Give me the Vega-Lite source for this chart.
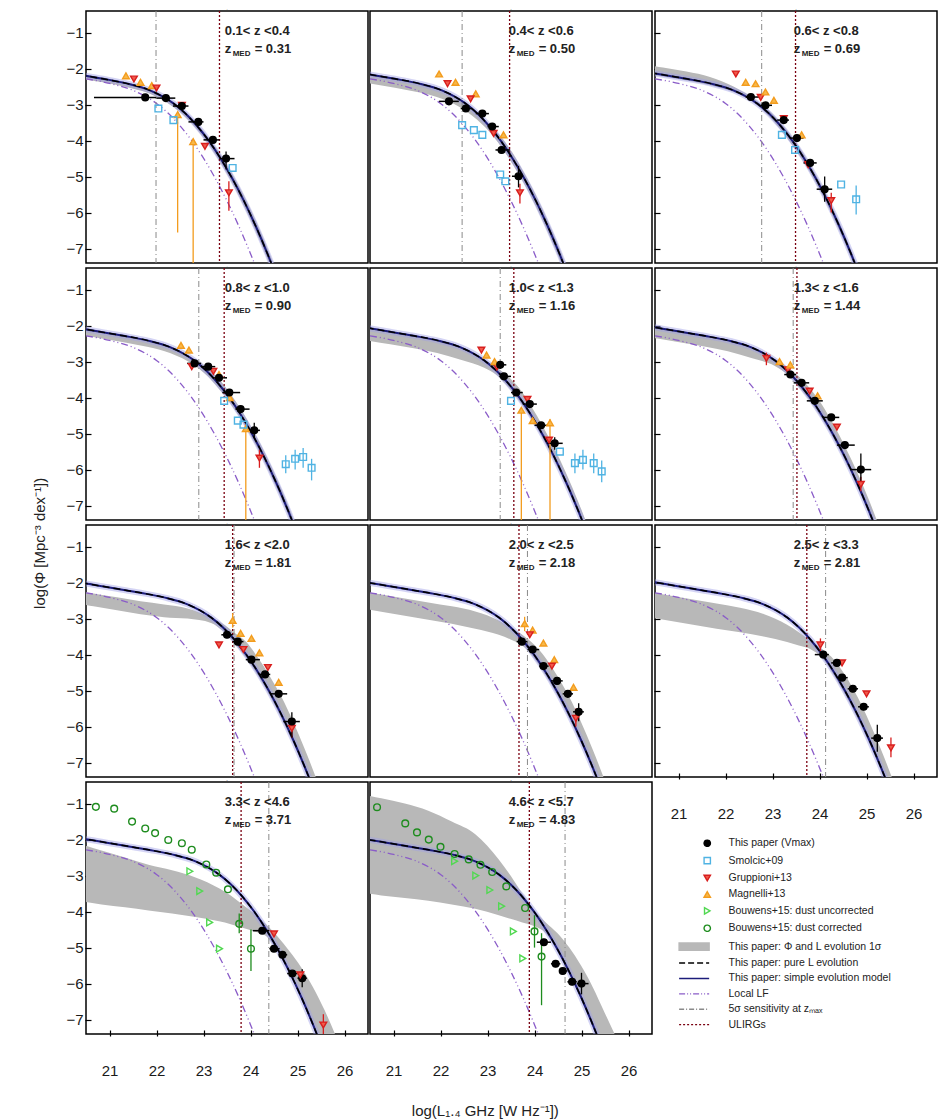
{
"$schema":"https://vega.github.io/schema/vega-lite/v6.json",
"background":"white",
"padding":{"left":32,"top":8,"right":0,"bottom":0},
"title":{"text":"log(L₁.₄ GHz [W Hz⁻¹])","orient":"bottom","anchor":"middle","dx":0,"offset":26,"font":"Liberation Sans","fontSize":15,"fontWeight":"normal","color":"#222"},
"datasets":{"all":[
{"p":1,"k":"c","x":20.36,"y":-2.171,"lo":-2.27,"hi":-2.14},{"p":1,"k":"c","x":20.86,"y":-2.284,"lo":-2.38,"hi":-2.25},{"p":1,"k":"c","x":21.36,"y":-2.41,"lo":-2.51,"hi":-2.38},{"p":1,"k":"c","x":21.86,"y":-2.604,"lo":-2.7,"hi":-2.57},{"p":1,"k":"c","x":22.36,"y":-2.967,"lo":-3.07,"hi":-2.93},{"p":1,"k":"c","x":22.61,"y":-3.242,"lo":-3.34,"hi":-3.19},{"p":1,"k":"c","x":22.86,"y":-3.587,"lo":-3.69,"hi":-3.52},{"p":1,"k":"c","x":23.11,"y":-4.002,"lo":-4.11,"hi":-3.92},{"p":1,"k":"c","x":23.36,"y":-4.489,"lo":-4.61,"hi":-4.38},{"p":1,"k":"c","x":23.61,"y":-5.047,"lo":-5.18,"hi":-4.92},{"p":1,"k":"c","x":23.86,"y":-5.675,"lo":-5.82,"hi":-5.53},{"p":1,"k":"c","x":24.11,"y":-6.373,"lo":-6.52,"hi":-6.22},{"p":1,"k":"c","x":24.36,"y":-7.14,"lo":-7.29,"hi":-6.99},{"p":1,"k":"c","x":24.61,"y":-7.976,"lo":-8.13,"hi":-7.83},
{"p":2,"k":"c","x":20.03,"y":-2.061,"lo":-2.31,"hi":-2.04},{"p":2,"k":"c","x":20.53,"y":-2.171,"lo":-2.42,"hi":-2.15},{"p":2,"k":"c","x":21.03,"y":-2.284,"lo":-2.53,"hi":-2.26},{"p":2,"k":"c","x":21.53,"y":-2.41,"lo":-2.66,"hi":-2.39},{"p":2,"k":"c","x":22.03,"y":-2.604,"lo":-2.84,"hi":-2.58},{"p":2,"k":"c","x":22.53,"y":-2.967,"lo":-3.17,"hi":-2.94},{"p":2,"k":"c","x":22.78,"y":-3.242,"lo":-3.42,"hi":-3.21},{"p":2,"k":"c","x":23.03,"y":-3.587,"lo":-3.74,"hi":-3.53},{"p":2,"k":"c","x":23.28,"y":-4.002,"lo":-4.15,"hi":-3.88},{"p":2,"k":"c","x":23.53,"y":-4.489,"lo":-4.64,"hi":-4.34},{"p":2,"k":"c","x":23.78,"y":-5.047,"lo":-5.2,"hi":-4.9},{"p":2,"k":"c","x":24.03,"y":-5.675,"lo":-5.83,"hi":-5.52},{"p":2,"k":"c","x":24.28,"y":-6.373,"lo":-6.53,"hi":-6.22},{"p":2,"k":"c","x":24.53,"y":-7.14,"lo":-7.29,"hi":-6.99},{"p":2,"k":"c","x":24.78,"y":-7.976,"lo":-8.13,"hi":-7.83},
{"p":3,"k":"c","x":20.17,"y":-2.061,"lo":-2.11,"hi":-1.86},{"p":3,"k":"c","x":20.67,"y":-2.171,"lo":-2.22,"hi":-1.97},{"p":3,"k":"c","x":21.17,"y":-2.284,"lo":-2.33,"hi":-2.08},{"p":3,"k":"c","x":21.67,"y":-2.41,"lo":-2.46,"hi":-2.23},{"p":3,"k":"c","x":22.17,"y":-2.604,"lo":-2.65,"hi":-2.5},{"p":3,"k":"c","x":22.67,"y":-2.967,"lo":-3.02,"hi":-2.9},{"p":3,"k":"c","x":22.92,"y":-3.242,"lo":-3.32,"hi":-3.16},{"p":3,"k":"c","x":23.17,"y":-3.587,"lo":-3.7,"hi":-3.5},{"p":3,"k":"c","x":23.42,"y":-4.002,"lo":-4.12,"hi":-3.9},{"p":3,"k":"c","x":23.67,"y":-4.489,"lo":-4.61,"hi":-4.38},{"p":3,"k":"c","x":23.92,"y":-5.047,"lo":-5.17,"hi":-4.94},{"p":3,"k":"c","x":24.17,"y":-5.675,"lo":-5.8,"hi":-5.56},{"p":3,"k":"c","x":24.42,"y":-6.373,"lo":-6.5,"hi":-6.26},{"p":3,"k":"c","x":24.67,"y":-7.14,"lo":-7.26,"hi":-7.03},{"p":3,"k":"c","x":24.92,"y":-7.976,"lo":-8.1,"hi":-7.87},
{"p":4,"k":"c","x":20.3,"y":-2.061,"lo":-2.24,"hi":-2.04},{"p":4,"k":"c","x":20.8,"y":-2.171,"lo":-2.35,"hi":-2.15},{"p":4,"k":"c","x":21.3,"y":-2.284,"lo":-2.46,"hi":-2.26},{"p":4,"k":"c","x":21.8,"y":-2.41,"lo":-2.59,"hi":-2.39},{"p":4,"k":"c","x":22.3,"y":-2.604,"lo":-2.77,"hi":-2.58},{"p":4,"k":"c","x":22.8,"y":-2.967,"lo":-3.1,"hi":-2.92},{"p":4,"k":"c","x":23.05,"y":-3.242,"lo":-3.36,"hi":-3.14},{"p":4,"k":"c","x":23.3,"y":-3.587,"lo":-3.71,"hi":-3.44},{"p":4,"k":"c","x":23.55,"y":-4.002,"lo":-4.12,"hi":-3.85},{"p":4,"k":"c","x":23.8,"y":-4.489,"lo":-4.61,"hi":-4.34},{"p":4,"k":"c","x":24.05,"y":-5.047,"lo":-5.17,"hi":-4.9},{"p":4,"k":"c","x":24.3,"y":-5.675,"lo":-5.8,"hi":-5.52},{"p":4,"k":"c","x":24.55,"y":-6.373,"lo":-6.5,"hi":-6.22},{"p":4,"k":"c","x":24.8,"y":-7.14,"lo":-7.26,"hi":-6.99},{"p":4,"k":"c","x":25.05,"y":-7.976,"lo":-8.1,"hi":-7.83},
{"p":5,"k":"c","x":20.43,"y":-2.061,"lo":-2.41,"hi":-2.04},{"p":5,"k":"c","x":20.93,"y":-2.171,"lo":-2.52,"hi":-2.15},{"p":5,"k":"c","x":21.43,"y":-2.284,"lo":-2.63,"hi":-2.26},{"p":5,"k":"c","x":21.93,"y":-2.41,"lo":-2.76,"hi":-2.39},{"p":5,"k":"c","x":22.43,"y":-2.604,"lo":-2.95,"hi":-2.58},{"p":5,"k":"c","x":22.93,"y":-2.967,"lo":-3.17,"hi":-2.94},{"p":5,"k":"c","x":23.18,"y":-3.242,"lo":-3.36,"hi":-3.15},{"p":5,"k":"c","x":23.43,"y":-3.587,"lo":-3.69,"hi":-3.4},{"p":5,"k":"c","x":23.68,"y":-4.002,"lo":-4.1,"hi":-3.75},{"p":5,"k":"c","x":23.93,"y":-4.489,"lo":-4.59,"hi":-4.24},{"p":5,"k":"c","x":24.18,"y":-5.047,"lo":-5.15,"hi":-4.8},{"p":5,"k":"c","x":24.43,"y":-5.675,"lo":-5.78,"hi":-5.43},{"p":5,"k":"c","x":24.68,"y":-6.373,"lo":-6.47,"hi":-6.12},{"p":5,"k":"c","x":24.93,"y":-7.14,"lo":-7.24,"hi":-6.89},{"p":5,"k":"c","x":25.18,"y":-7.976,"lo":-8.08,"hi":-7.73},
{"p":6,"k":"c","x":20.05,"y":-1.951,"lo":-2.25,"hi":-1.93},{"p":6,"k":"c","x":20.55,"y":-2.061,"lo":-2.36,"hi":-2.04},{"p":6,"k":"c","x":21.05,"y":-2.171,"lo":-2.47,"hi":-2.15},{"p":6,"k":"c","x":21.55,"y":-2.284,"lo":-2.58,"hi":-2.26},{"p":6,"k":"c","x":22.05,"y":-2.41,"lo":-2.71,"hi":-2.39},{"p":6,"k":"c","x":22.55,"y":-2.604,"lo":-2.9,"hi":-2.58},{"p":6,"k":"c","x":23.05,"y":-2.967,"lo":-3.12,"hi":-2.93},{"p":6,"k":"c","x":23.3,"y":-3.242,"lo":-3.34,"hi":-3.14},{"p":6,"k":"c","x":23.55,"y":-3.587,"lo":-3.69,"hi":-3.4},{"p":6,"k":"c","x":23.8,"y":-4.002,"lo":-4.1,"hi":-3.75},{"p":6,"k":"c","x":24.05,"y":-4.489,"lo":-4.59,"hi":-4.19},{"p":6,"k":"c","x":24.3,"y":-5.047,"lo":-5.15,"hi":-4.75},{"p":6,"k":"c","x":24.55,"y":-5.675,"lo":-5.78,"hi":-5.38},{"p":6,"k":"c","x":24.8,"y":-6.373,"lo":-6.47,"hi":-6.07},{"p":6,"k":"c","x":25.05,"y":-7.14,"lo":-7.24,"hi":-6.84},{"p":6,"k":"c","x":25.3,"y":-7.976,"lo":-8.08,"hi":-7.68},
{"p":7,"k":"c","x":20.16,"y":-1.951,"lo":-2.55,"hi":-2.19},{"p":7,"k":"c","x":20.66,"y":-2.061,"lo":-2.66,"hi":-2.3},{"p":7,"k":"c","x":21.16,"y":-2.171,"lo":-2.77,"hi":-2.41},{"p":7,"k":"c","x":21.66,"y":-2.284,"lo":-2.88,"hi":-2.52},{"p":7,"k":"c","x":22.16,"y":-2.41,"lo":-2.96,"hi":-2.61},{"p":7,"k":"c","x":22.66,"y":-2.604,"lo":-3.0,"hi":-2.72},{"p":7,"k":"c","x":23.16,"y":-2.967,"lo":-3.12,"hi":-2.97},{"p":7,"k":"c","x":23.41,"y":-3.242,"lo":-3.34,"hi":-3.14},{"p":7,"k":"c","x":23.66,"y":-3.587,"lo":-3.69,"hi":-3.39},{"p":7,"k":"c","x":23.91,"y":-4.002,"lo":-4.1,"hi":-3.65},{"p":7,"k":"c","x":24.16,"y":-4.489,"lo":-4.59,"hi":-4.09},{"p":7,"k":"c","x":24.41,"y":-5.047,"lo":-5.15,"hi":-4.6},{"p":7,"k":"c","x":24.66,"y":-5.675,"lo":-5.78,"hi":-5.18},{"p":7,"k":"c","x":24.91,"y":-6.373,"lo":-6.47,"hi":-5.87},{"p":7,"k":"c","x":25.16,"y":-7.14,"lo":-7.24,"hi":-6.64},{"p":7,"k":"c","x":25.41,"y":-7.976,"lo":-8.08,"hi":-7.48},{"p":7,"k":"c","x":25.66,"y":-8.88,"lo":-8.98,"hi":-8.38},
{"p":8,"k":"c","x":20.24,"y":-1.951,"lo":-2.7,"hi":-2.22},{"p":8,"k":"c","x":20.74,"y":-2.061,"lo":-2.81,"hi":-2.33},{"p":8,"k":"c","x":21.24,"y":-2.171,"lo":-2.92,"hi":-2.44},{"p":8,"k":"c","x":21.74,"y":-2.284,"lo":-3.03,"hi":-2.55},{"p":8,"k":"c","x":22.24,"y":-2.41,"lo":-3.14,"hi":-2.66},{"p":8,"k":"c","x":22.74,"y":-2.604,"lo":-3.28,"hi":-2.8},{"p":8,"k":"c","x":23.24,"y":-2.967,"lo":-3.45,"hi":-3.05},{"p":8,"k":"c","x":23.49,"y":-3.242,"lo":-3.58,"hi":-3.25},{"p":8,"k":"c","x":23.74,"y":-3.587,"lo":-3.75,"hi":-3.45},{"p":8,"k":"c","x":23.99,"y":-4.002,"lo":-4.1,"hi":-3.72},{"p":8,"k":"c","x":24.24,"y":-4.489,"lo":-4.59,"hi":-4.1},{"p":8,"k":"c","x":24.49,"y":-5.047,"lo":-5.15,"hi":-4.6},{"p":8,"k":"c","x":24.74,"y":-5.675,"lo":-5.78,"hi":-5.18},{"p":8,"k":"c","x":24.99,"y":-6.373,"lo":-6.47,"hi":-5.87},{"p":8,"k":"c","x":25.24,"y":-7.14,"lo":-7.24,"hi":-6.64},{"p":8,"k":"c","x":25.49,"y":-7.976,"lo":-8.08,"hi":-7.48},{"p":8,"k":"c","x":25.74,"y":-8.88,"lo":-8.98,"hi":-8.38},
{"p":9,"k":"c","x":20.31,"y":-1.951,"lo":-2.95,"hi":-2.25},{"p":9,"k":"c","x":20.81,"y":-2.061,"lo":-3.06,"hi":-2.36},{"p":9,"k":"c","x":21.31,"y":-2.171,"lo":-3.17,"hi":-2.47},{"p":9,"k":"c","x":21.81,"y":-2.284,"lo":-3.28,"hi":-2.58},{"p":9,"k":"c","x":22.31,"y":-2.41,"lo":-3.38,"hi":-2.7},{"p":9,"k":"c","x":22.81,"y":-2.604,"lo":-3.5,"hi":-2.87},{"p":9,"k":"c","x":23.31,"y":-2.967,"lo":-3.65,"hi":-3.17},{"p":9,"k":"c","x":23.56,"y":-3.242,"lo":-3.75,"hi":-3.38},{"p":9,"k":"c","x":23.81,"y":-3.587,"lo":-3.85,"hi":-3.62},{"p":9,"k":"c","x":24.06,"y":-4.002,"lo":-4.1,"hi":-3.85},{"p":9,"k":"c","x":24.31,"y":-4.489,"lo":-4.59,"hi":-4.14},{"p":9,"k":"c","x":24.56,"y":-5.047,"lo":-5.15,"hi":-4.6},{"p":9,"k":"c","x":24.81,"y":-5.675,"lo":-5.78,"hi":-5.18},{"p":9,"k":"c","x":25.06,"y":-6.373,"lo":-6.47,"hi":-5.87},{"p":9,"k":"c","x":25.31,"y":-7.14,"lo":-7.24,"hi":-6.64},{"p":9,"k":"c","x":25.56,"y":-7.976,"lo":-8.08,"hi":-7.48},{"p":9,"k":"c","x":25.81,"y":-8.88,"lo":-8.98,"hi":-8.38},
{"p":10,"k":"c","x":20.33,"y":-1.951,"lo":-3.7,"hi":-2.1},{"p":10,"k":"c","x":20.83,"y":-2.061,"lo":-3.8,"hi":-2.3},{"p":10,"k":"c","x":21.33,"y":-2.171,"lo":-3.88,"hi":-2.5},{"p":10,"k":"c","x":21.83,"y":-2.284,"lo":-3.97,"hi":-2.7},{"p":10,"k":"c","x":22.33,"y":-2.41,"lo":-4.05,"hi":-2.85},{"p":10,"k":"c","x":22.83,"y":-2.604,"lo":-4.15,"hi":-3.05},{"p":10,"k":"c","x":23.33,"y":-2.967,"lo":-4.27,"hi":-3.35},{"p":10,"k":"c","x":23.58,"y":-3.242,"lo":-4.35,"hi":-3.55},{"p":10,"k":"c","x":23.83,"y":-3.587,"lo":-4.45,"hi":-3.8},{"p":10,"k":"c","x":24.08,"y":-4.002,"lo":-4.55,"hi":-4.05},{"p":10,"k":"c","x":24.33,"y":-4.489,"lo":-4.68,"hi":-4.35},{"p":10,"k":"c","x":24.58,"y":-5.047,"lo":-5.12,"hi":-4.7},{"p":10,"k":"c","x":24.83,"y":-5.675,"lo":-5.72,"hi":-5.1},{"p":10,"k":"c","x":25.08,"y":-6.373,"lo":-6.42,"hi":-5.55},{"p":10,"k":"c","x":25.33,"y":-7.14,"lo":-7.19,"hi":-6.1},{"p":10,"k":"c","x":25.58,"y":-7.976,"lo":-8.03,"hi":-6.75},{"p":10,"k":"c","x":25.83,"y":-8.88,"lo":-8.93,"hi":-7.5},
{"p":11,"k":"c","x":20.24,"y":-1.951,"lo":-3.45,"hi":-0.72},{"p":11,"k":"c","x":20.74,"y":-2.061,"lo":-3.55,"hi":-0.85},{"p":11,"k":"c","x":21.24,"y":-2.171,"lo":-3.62,"hi":-1.0},{"p":11,"k":"c","x":21.74,"y":-2.284,"lo":-3.7,"hi":-1.2},{"p":11,"k":"c","x":22.24,"y":-2.41,"lo":-3.8,"hi":-1.5},{"p":11,"k":"c","x":22.74,"y":-2.604,"lo":-3.92,"hi":-1.85},{"p":11,"k":"c","x":23.24,"y":-2.967,"lo":-4.1,"hi":-2.55},{"p":11,"k":"c","x":23.49,"y":-3.242,"lo":-4.2,"hi":-3.0},{"p":11,"k":"c","x":23.74,"y":-3.587,"lo":-4.3,"hi":-3.5},{"p":11,"k":"c","x":23.99,"y":-4.002,"lo":-4.4,"hi":-3.95},{"p":11,"k":"c","x":24.24,"y":-4.489,"lo":-4.6,"hi":-4.3},{"p":11,"k":"c","x":24.49,"y":-5.047,"lo":-5.12,"hi":-4.6},{"p":11,"k":"c","x":24.74,"y":-5.675,"lo":-5.75,"hi":-5.0},{"p":11,"k":"c","x":24.99,"y":-6.373,"lo":-6.45,"hi":-5.5},{"p":11,"k":"c","x":25.24,"y":-7.14,"lo":-7.22,"hi":-6.1},{"p":11,"k":"c","x":25.49,"y":-7.976,"lo":-8.05,"hi":-6.8},{"p":11,"k":"c","x":25.74,"y":-8.88,"lo":-8.95,"hi":-7.5},
{"p":1,"k":"l","x":20.5,"y":-2.284},{"p":1,"k":"l","x":21,"y":-2.41},{"p":1,"k":"l","x":21.5,"y":-2.604},{"p":1,"k":"l","x":22,"y":-2.967},{"p":1,"k":"l","x":22.25,"y":-3.242},{"p":1,"k":"l","x":22.5,"y":-3.587},{"p":1,"k":"l","x":22.75,"y":-4.002},{"p":1,"k":"l","x":23,"y":-4.489},{"p":1,"k":"l","x":23.25,"y":-5.047},{"p":1,"k":"l","x":23.5,"y":-5.675},{"p":1,"k":"l","x":23.75,"y":-6.373},{"p":1,"k":"l","x":24,"y":-7.14},{"p":1,"k":"l","x":24.25,"y":-7.976},
{"p":2,"k":"l","x":20.5,"y":-2.284},{"p":2,"k":"l","x":21,"y":-2.41},{"p":2,"k":"l","x":21.5,"y":-2.604},{"p":2,"k":"l","x":22,"y":-2.967},{"p":2,"k":"l","x":22.25,"y":-3.242},{"p":2,"k":"l","x":22.5,"y":-3.587},{"p":2,"k":"l","x":22.75,"y":-4.002},{"p":2,"k":"l","x":23,"y":-4.489},{"p":2,"k":"l","x":23.25,"y":-5.047},{"p":2,"k":"l","x":23.5,"y":-5.675},{"p":2,"k":"l","x":23.75,"y":-6.373},{"p":2,"k":"l","x":24,"y":-7.14},{"p":2,"k":"l","x":24.25,"y":-7.976},
{"p":3,"k":"l","x":20.5,"y":-2.284},{"p":3,"k":"l","x":21,"y":-2.41},{"p":3,"k":"l","x":21.5,"y":-2.604},{"p":3,"k":"l","x":22,"y":-2.967},{"p":3,"k":"l","x":22.25,"y":-3.242},{"p":3,"k":"l","x":22.5,"y":-3.587},{"p":3,"k":"l","x":22.75,"y":-4.002},{"p":3,"k":"l","x":23,"y":-4.489},{"p":3,"k":"l","x":23.25,"y":-5.047},{"p":3,"k":"l","x":23.5,"y":-5.675},{"p":3,"k":"l","x":23.75,"y":-6.373},{"p":3,"k":"l","x":24,"y":-7.14},{"p":3,"k":"l","x":24.25,"y":-7.976},
{"p":4,"k":"l","x":20.5,"y":-2.284},{"p":4,"k":"l","x":21,"y":-2.41},{"p":4,"k":"l","x":21.5,"y":-2.604},{"p":4,"k":"l","x":22,"y":-2.967},{"p":4,"k":"l","x":22.25,"y":-3.242},{"p":4,"k":"l","x":22.5,"y":-3.587},{"p":4,"k":"l","x":22.75,"y":-4.002},{"p":4,"k":"l","x":23,"y":-4.489},{"p":4,"k":"l","x":23.25,"y":-5.047},{"p":4,"k":"l","x":23.5,"y":-5.675},{"p":4,"k":"l","x":23.75,"y":-6.373},{"p":4,"k":"l","x":24,"y":-7.14},{"p":4,"k":"l","x":24.25,"y":-7.976},
{"p":5,"k":"l","x":20.5,"y":-2.284},{"p":5,"k":"l","x":21,"y":-2.41},{"p":5,"k":"l","x":21.5,"y":-2.604},{"p":5,"k":"l","x":22,"y":-2.967},{"p":5,"k":"l","x":22.25,"y":-3.242},{"p":5,"k":"l","x":22.5,"y":-3.587},{"p":5,"k":"l","x":22.75,"y":-4.002},{"p":5,"k":"l","x":23,"y":-4.489},{"p":5,"k":"l","x":23.25,"y":-5.047},{"p":5,"k":"l","x":23.5,"y":-5.675},{"p":5,"k":"l","x":23.75,"y":-6.373},{"p":5,"k":"l","x":24,"y":-7.14},{"p":5,"k":"l","x":24.25,"y":-7.976},
{"p":6,"k":"l","x":20.5,"y":-2.284},{"p":6,"k":"l","x":21,"y":-2.41},{"p":6,"k":"l","x":21.5,"y":-2.604},{"p":6,"k":"l","x":22,"y":-2.967},{"p":6,"k":"l","x":22.25,"y":-3.242},{"p":6,"k":"l","x":22.5,"y":-3.587},{"p":6,"k":"l","x":22.75,"y":-4.002},{"p":6,"k":"l","x":23,"y":-4.489},{"p":6,"k":"l","x":23.25,"y":-5.047},{"p":6,"k":"l","x":23.5,"y":-5.675},{"p":6,"k":"l","x":23.75,"y":-6.373},{"p":6,"k":"l","x":24,"y":-7.14},{"p":6,"k":"l","x":24.25,"y":-7.976},
{"p":7,"k":"l","x":20.5,"y":-2.284},{"p":7,"k":"l","x":21,"y":-2.41},{"p":7,"k":"l","x":21.5,"y":-2.604},{"p":7,"k":"l","x":22,"y":-2.967},{"p":7,"k":"l","x":22.25,"y":-3.242},{"p":7,"k":"l","x":22.5,"y":-3.587},{"p":7,"k":"l","x":22.75,"y":-4.002},{"p":7,"k":"l","x":23,"y":-4.489},{"p":7,"k":"l","x":23.25,"y":-5.047},{"p":7,"k":"l","x":23.5,"y":-5.675},{"p":7,"k":"l","x":23.75,"y":-6.373},{"p":7,"k":"l","x":24,"y":-7.14},{"p":7,"k":"l","x":24.25,"y":-7.976},
{"p":8,"k":"l","x":20.5,"y":-2.284},{"p":8,"k":"l","x":21,"y":-2.41},{"p":8,"k":"l","x":21.5,"y":-2.604},{"p":8,"k":"l","x":22,"y":-2.967},{"p":8,"k":"l","x":22.25,"y":-3.242},{"p":8,"k":"l","x":22.5,"y":-3.587},{"p":8,"k":"l","x":22.75,"y":-4.002},{"p":8,"k":"l","x":23,"y":-4.489},{"p":8,"k":"l","x":23.25,"y":-5.047},{"p":8,"k":"l","x":23.5,"y":-5.675},{"p":8,"k":"l","x":23.75,"y":-6.373},{"p":8,"k":"l","x":24,"y":-7.14},{"p":8,"k":"l","x":24.25,"y":-7.976},
{"p":9,"k":"l","x":20.5,"y":-2.284},{"p":9,"k":"l","x":21,"y":-2.41},{"p":9,"k":"l","x":21.5,"y":-2.604},{"p":9,"k":"l","x":22,"y":-2.967},{"p":9,"k":"l","x":22.25,"y":-3.242},{"p":9,"k":"l","x":22.5,"y":-3.587},{"p":9,"k":"l","x":22.75,"y":-4.002},{"p":9,"k":"l","x":23,"y":-4.489},{"p":9,"k":"l","x":23.25,"y":-5.047},{"p":9,"k":"l","x":23.5,"y":-5.675},{"p":9,"k":"l","x":23.75,"y":-6.373},{"p":9,"k":"l","x":24,"y":-7.14},{"p":9,"k":"l","x":24.25,"y":-7.976},
{"p":10,"k":"l","x":20.5,"y":-2.284},{"p":10,"k":"l","x":21,"y":-2.41},{"p":10,"k":"l","x":21.5,"y":-2.604},{"p":10,"k":"l","x":22,"y":-2.967},{"p":10,"k":"l","x":22.25,"y":-3.242},{"p":10,"k":"l","x":22.5,"y":-3.587},{"p":10,"k":"l","x":22.75,"y":-4.002},{"p":10,"k":"l","x":23,"y":-4.489},{"p":10,"k":"l","x":23.25,"y":-5.047},{"p":10,"k":"l","x":23.5,"y":-5.675},{"p":10,"k":"l","x":23.75,"y":-6.373},{"p":10,"k":"l","x":24,"y":-7.14},{"p":10,"k":"l","x":24.25,"y":-7.976},
{"p":11,"k":"l","x":20.5,"y":-2.284},{"p":11,"k":"l","x":21,"y":-2.41},{"p":11,"k":"l","x":21.5,"y":-2.604},{"p":11,"k":"l","x":22,"y":-2.967},{"p":11,"k":"l","x":22.25,"y":-3.242},{"p":11,"k":"l","x":22.5,"y":-3.587},{"p":11,"k":"l","x":22.75,"y":-4.002},{"p":11,"k":"l","x":23,"y":-4.489},{"p":11,"k":"l","x":23.25,"y":-5.047},{"p":11,"k":"l","x":23.5,"y":-5.675},{"p":11,"k":"l","x":23.75,"y":-6.373},{"p":11,"k":"l","x":24,"y":-7.14},{"p":11,"k":"l","x":24.25,"y":-7.976},
{"p":1,"k":"v","t":"s","x":21.99},{"p":1,"k":"v","t":"u","x":23.34},
{"p":2,"k":"v","t":"s","x":22.46},{"p":2,"k":"v","t":"u","x":23.47},
{"p":3,"k":"v","t":"s","x":22.77},{"p":3,"k":"v","t":"u","x":23.49},
{"p":4,"k":"v","t":"s","x":22.9},{"p":4,"k":"v","t":"u","x":23.44},
{"p":5,"k":"v","t":"s","x":23.27},{"p":5,"k":"v","t":"u","x":23.56},
{"p":6,"k":"v","t":"s","x":23.44},{"p":6,"k":"v","t":"u","x":23.52},
{"p":7,"k":"v","t":"s","x":23.65},{"p":7,"k":"v","t":"u","x":23.62},
{"p":8,"k":"v","t":"s","x":23.85},{"p":8,"k":"v","t":"u","x":23.67},
{"p":9,"k":"v","t":"s","x":24.13},{"p":9,"k":"v","t":"u","x":23.73},
{"p":10,"k":"v","t":"s","x":24.39},{"p":10,"k":"v","t":"u","x":23.8},
{"p":11,"k":"v","t":"s","x":24.65},{"p":11,"k":"v","t":"u","x":23.89},
{"p":1,"k":"d","s":"M","x":21.35,"y":-2.2},{"p":1,"k":"d","s":"M","x":21.66,"y":-2.38},{"p":1,"k":"d","s":"M","x":21.9,"y":-2.47},{"p":1,"k":"d","s":"M","x":22.45,"y":-3.28,"ylo":-6.55,"yhi":-3.2},{"p":1,"k":"d","s":"M","x":22.78,"y":-4.03,"ylo":-7.6,"yhi":-3.95},
{"p":1,"k":"d","s":"G","x":21.52,"y":-2.29},{"p":1,"k":"d","s":"G","x":22.0,"y":-2.54},{"p":1,"k":"d","s":"G","x":22.54,"y":-3.02},{"p":1,"k":"d","s":"G","x":23.03,"y":-4.16},{"p":1,"k":"d","s":"G","x":23.54,"y":-5.45,"ylo":-5.95,"yhi":-5.13},
{"p":1,"k":"d","s":"S","x":22.04,"y":-3.11},{"p":1,"k":"d","s":"S","x":22.36,"y":-3.43},{"p":1,"k":"d","s":"S","x":23.62,"y":-4.76},
{"p":1,"k":"d","s":"V","x":21.76,"y":-2.8,"xlo":20.67,"xhi":22.0},{"p":1,"k":"d","s":"V","x":22.2,"y":-2.82,"xlo":22.0,"xhi":22.4},{"p":1,"k":"d","s":"V","x":22.54,"y":-3.04,"xlo":22.35,"xhi":22.68},{"p":1,"k":"d","s":"V","x":22.89,"y":-3.48,"xlo":22.68,"xhi":23.0},{"p":1,"k":"d","s":"V","x":23.2,"y":-3.98,"xlo":23.0,"xhi":23.34},{"p":1,"k":"d","s":"V","x":23.48,"y":-4.5,"xlo":23.34,"xhi":23.66,"ylo":-4.8,"yhi":-4.3},
{"p":2,"k":"d","s":"M","x":21.97,"y":-2.15},{"p":2,"k":"d","s":"M","x":22.32,"y":-2.38},{"p":2,"k":"d","s":"M","x":22.75,"y":-2.7},{"p":2,"k":"d","s":"M","x":23.34,"y":-3.84},
{"p":2,"k":"d","s":"G","x":22.15,"y":-2.42},{"p":2,"k":"d","s":"G","x":22.64,"y":-2.84},{"p":2,"k":"d","s":"G","x":23.13,"y":-3.8},{"p":2,"k":"d","s":"G","x":23.69,"y":-5.45,"ylo":-5.75,"yhi":-5.2},
{"p":2,"k":"d","s":"S","x":22.46,"y":-3.57},{"p":2,"k":"d","s":"S","x":22.71,"y":-3.71},{"p":2,"k":"d","s":"S","x":22.89,"y":-3.84},{"p":2,"k":"d","s":"S","x":23.27,"y":-4.94},{"p":2,"k":"d","s":"S","x":23.38,"y":-5.13},
{"p":2,"k":"d","s":"V","x":22.18,"y":-2.91,"xlo":21.97,"xhi":22.39},{"p":2,"k":"d","s":"V","x":22.54,"y":-3.11,"xlo":22.43,"xhi":22.68},{"p":2,"k":"d","s":"V","x":22.89,"y":-3.25,"xlo":22.75,"xhi":23.03},{"p":2,"k":"d","s":"V","x":23.1,"y":-3.61,"xlo":23.0,"xhi":23.24},{"p":2,"k":"d","s":"V","x":23.3,"y":-4.26,"xlo":23.17,"xhi":23.48},{"p":2,"k":"d","s":"V","x":23.66,"y":-4.99,"xlo":23.52,"xhi":23.76,"ylo":-5.3,"yhi":-4.7},
{"p":3,"k":"d","s":"G","x":22.22,"y":-2.15},{"p":3,"k":"d","s":"G","x":22.75,"y":-2.8},{"p":3,"k":"d","s":"G","x":23.24,"y":-3.39},{"p":3,"k":"d","s":"G","x":23.76,"y":-4.67},{"p":3,"k":"d","s":"G","x":24.25,"y":-5.67,"ylo":-6.0,"yhi":-5.45},
{"p":3,"k":"d","s":"M","x":22.43,"y":-2.38},{"p":3,"k":"d","s":"M","x":22.64,"y":-2.42},{"p":3,"k":"d","s":"M","x":22.85,"y":-2.65},{"p":3,"k":"d","s":"M","x":23.03,"y":-2.88},{"p":3,"k":"d","s":"M","x":23.62,"y":-3.84},
{"p":3,"k":"d","s":"S","x":23.2,"y":-3.84},{"p":3,"k":"d","s":"S","x":23.48,"y":-4.26},{"p":3,"k":"d","s":"S","x":24.46,"y":-5.22},{"p":3,"k":"d","s":"S","x":24.78,"y":-5.63,"ylo":-6.05,"yhi":-5.25},
{"p":3,"k":"d","s":"V","x":22.54,"y":-2.79,"xlo":22.43,"xhi":22.75},{"p":3,"k":"d","s":"V","x":22.85,"y":-3.02,"xlo":22.75,"xhi":22.99},{"p":3,"k":"d","s":"V","x":23.24,"y":-3.43,"xlo":23.1,"xhi":23.35},{"p":3,"k":"d","s":"V","x":23.52,"y":-3.93,"xlo":23.38,"xhi":23.66},{"p":3,"k":"d","s":"V","x":23.8,"y":-4.62,"xlo":23.66,"xhi":23.94},{"p":3,"k":"d","s":"V","x":24.11,"y":-5.35,"xlo":23.94,"xhi":24.27,"ylo":-5.7,"yhi":-5.0},
{"p":4,"k":"d","s":"M","x":22.52,"y":-2.55},{"p":4,"k":"d","s":"M","x":22.69,"y":-2.68},{"p":4,"k":"d","s":"M","x":23.33,"y":-3.36},{"p":4,"k":"d","s":"M","x":23.56,"y":-4.0},{"p":4,"k":"d","s":"M","x":23.9,"y":-4.86,"ylo":-7.6,"yhi":-4.8},
{"p":4,"k":"d","s":"G","x":22.75,"y":-3.14},{"p":4,"k":"d","s":"G","x":23.21,"y":-3.27},{"p":4,"k":"d","s":"G","x":24.19,"y":-5.68,"ylo":-5.95,"yhi":-5.45},
{"p":4,"k":"d","s":"S","x":23.44,"y":-4.09},{"p":4,"k":"d","s":"S","x":23.73,"y":-4.64},{"p":4,"k":"d","s":"S","x":23.85,"y":-4.75},{"p":4,"k":"d","s":"S","x":24.75,"y":-5.85,"ylo":-6.1,"yhi":-5.6},{"p":4,"k":"d","s":"S","x":24.95,"y":-5.7,"ylo":-6.0,"yhi":-5.45},{"p":4,"k":"d","s":"S","x":25.12,"y":-5.65,"ylo":-5.95,"yhi":-5.4},{"p":4,"k":"d","s":"S","x":25.3,"y":-5.95,"ylo":-6.3,"yhi":-5.7},
{"p":4,"k":"d","s":"V","x":22.81,"y":-3.05,"xlo":22.65,"xhi":22.95},{"p":4,"k":"d","s":"V","x":23.1,"y":-3.14,"xlo":22.95,"xhi":23.25},{"p":4,"k":"d","s":"V","x":23.33,"y":-3.45,"xlo":23.2,"xhi":23.5},{"p":4,"k":"d","s":"V","x":23.55,"y":-3.86,"xlo":23.4,"xhi":23.78},{"p":4,"k":"d","s":"V","x":23.79,"y":-4.32,"xlo":23.68,"xhi":23.98},{"p":4,"k":"d","s":"V","x":24.08,"y":-4.91,"xlo":23.95,"xhi":24.2,"ylo":-5.1,"yhi":-4.7},
{"p":5,"k":"d","s":"G","x":22.87,"y":-2.68},{"p":5,"k":"d","s":"G","x":23.2,"y":-3.15},{"p":5,"k":"d","s":"G","x":23.85,"y":-4.05},{"p":5,"k":"d","s":"G","x":24.31,"y":-5.18},
{"p":5,"k":"d","s":"M","x":22.98,"y":-2.82},{"p":5,"k":"d","s":"M","x":23.15,"y":-3.0},{"p":5,"k":"d","s":"M","x":23.72,"y":-4.35,"ylo":-7.6,"yhi":-4.3},{"p":5,"k":"d","s":"M","x":23.96,"y":-4.64},{"p":5,"k":"d","s":"M","x":24.33,"y":-4.7,"ylo":-7.6,"yhi":-4.6},
{"p":5,"k":"d","s":"S","x":23.5,"y":-4.09},{"p":5,"k":"d","s":"S","x":24.54,"y":-5.5},{"p":5,"k":"d","s":"S","x":24.86,"y":-5.82,"ylo":-6.1,"yhi":-5.55},{"p":5,"k":"d","s":"S","x":25.03,"y":-5.73,"ylo":-6.0,"yhi":-5.45},{"p":5,"k":"d","s":"S","x":25.26,"y":-5.82,"ylo":-6.1,"yhi":-5.55},{"p":5,"k":"d","s":"S","x":25.43,"y":-6.05,"ylo":-6.35,"yhi":-5.75},
{"p":5,"k":"d","s":"V","x":23.27,"y":-3.09,"xlo":23.1,"xhi":23.4},{"p":5,"k":"d","s":"V","x":23.35,"y":-3.41,"xlo":23.25,"xhi":23.5},{"p":5,"k":"d","s":"V","x":23.61,"y":-3.86,"xlo":23.5,"xhi":23.75},{"p":5,"k":"d","s":"V","x":23.9,"y":-4.18,"xlo":23.75,"xhi":24.05},{"p":5,"k":"d","s":"V","x":24.14,"y":-4.77,"xlo":24.0,"xhi":24.3},{"p":5,"k":"d","s":"V","x":24.43,"y":-5.27,"xlo":24.27,"xhi":24.6,"ylo":-5.45,"yhi":-5.1},
{"p":6,"k":"d","s":"G","x":22.87,"y":-2.91,"ylo":-3.1,"yhi":-2.75},{"p":6,"k":"d","s":"G","x":23.33,"y":-3.23},{"p":6,"k":"d","s":"G","x":23.79,"y":-3.82},{"p":6,"k":"d","s":"G","x":24.37,"y":-4.82},{"p":6,"k":"d","s":"G","x":24.88,"y":-6.41,"ylo":-6.6,"yhi":-6.2},
{"p":6,"k":"d","s":"M","x":23.15,"y":-3.0},{"p":6,"k":"d","s":"M","x":23.38,"y":-3.09},{"p":6,"k":"d","s":"M","x":23.96,"y":-3.95},
{"p":6,"k":"d","s":"V","x":23.38,"y":-3.36,"xlo":23.25,"xhi":23.5},{"p":6,"k":"d","s":"V","x":23.62,"y":-3.59,"xlo":23.45,"xhi":23.78},{"p":6,"k":"d","s":"V","x":23.9,"y":-4.09,"xlo":23.73,"xhi":24.07},{"p":6,"k":"d","s":"V","x":24.25,"y":-4.55,"xlo":24.07,"xhi":24.42},{"p":6,"k":"d","s":"V","x":24.54,"y":-5.32,"xlo":24.37,"xhi":24.75},{"p":6,"k":"d","s":"V","x":24.88,"y":-6.0,"xlo":24.65,"xhi":25.1,"ylo":-6.4,"yhi":-5.55},
{"p":7,"k":"d","s":"M","x":23.62,"y":-3.05,"ylo":-3.25,"yhi":-2.85},{"p":7,"k":"d","s":"M","x":23.79,"y":-3.41},{"p":7,"k":"d","s":"M","x":24.02,"y":-3.55},{"p":7,"k":"d","s":"M","x":24.19,"y":-3.95},{"p":7,"k":"d","s":"M","x":24.6,"y":-4.77},
{"p":7,"k":"d","s":"G","x":23.33,"y":-3.73},{"p":7,"k":"d","s":"G","x":23.85,"y":-3.86},{"p":7,"k":"d","s":"G","x":24.37,"y":-4.36},{"p":7,"k":"d","s":"G","x":24.88,"y":-6.05,"ylo":-6.3,"yhi":-5.8},
{"p":7,"k":"d","s":"V","x":23.5,"y":-3.45,"xlo":23.38,"xhi":23.62},{"p":7,"k":"d","s":"V","x":23.73,"y":-3.64,"xlo":23.62,"xhi":23.85},{"p":7,"k":"d","s":"V","x":24.02,"y":-4.14,"xlo":23.9,"xhi":24.2},{"p":7,"k":"d","s":"V","x":24.31,"y":-4.55,"xlo":24.2,"xhi":24.42},{"p":7,"k":"d","s":"V","x":24.6,"y":-5.09,"xlo":24.42,"xhi":24.78},{"p":7,"k":"d","s":"V","x":24.88,"y":-5.86,"xlo":24.7,"xhi":25.05,"ylo":-6.3,"yhi":-5.6},
{"p":8,"k":"d","s":"M","x":23.79,"y":-3.14,"ylo":-3.35,"yhi":-2.95},{"p":8,"k":"d","s":"M","x":23.96,"y":-3.32},{"p":8,"k":"d","s":"M","x":24.19,"y":-3.68},{"p":8,"k":"d","s":"M","x":24.42,"y":-4.14},{"p":8,"k":"d","s":"M","x":24.83,"y":-4.91},
{"p":8,"k":"d","s":"G","x":23.9,"y":-3.45},{"p":8,"k":"d","s":"G","x":24.37,"y":-4.32},{"p":8,"k":"d","s":"G","x":24.88,"y":-5.77,"ylo":-6.0,"yhi":-5.5},
{"p":8,"k":"d","s":"V","x":23.73,"y":-3.64,"xlo":23.62,"xhi":23.85},{"p":8,"k":"d","s":"V","x":23.96,"y":-3.86,"xlo":23.85,"xhi":24.1},{"p":8,"k":"d","s":"V","x":24.19,"y":-4.32,"xlo":24.1,"xhi":24.3},{"p":8,"k":"d","s":"V","x":24.48,"y":-4.73,"xlo":24.35,"xhi":24.6},{"p":8,"k":"d","s":"V","x":24.71,"y":-5.09,"xlo":24.6,"xhi":24.82},{"p":8,"k":"d","s":"V","x":24.94,"y":-5.59,"xlo":24.82,"xhi":25.05,"ylo":-5.85,"yhi":-5.35},
{"p":9,"k":"d","s":"G","x":24.02,"y":-3.73,"ylo":-3.9,"yhi":-3.55},{"p":9,"k":"d","s":"G","x":24.48,"y":-4.23},{"p":9,"k":"d","s":"G","x":25.0,"y":-5.09},{"p":9,"k":"d","s":"G","x":25.52,"y":-6.59,"ylo":-6.85,"yhi":-6.3},
{"p":9,"k":"d","s":"V","x":24.08,"y":-4.0,"xlo":23.9,"xhi":24.2},{"p":9,"k":"d","s":"V","x":24.37,"y":-4.23,"xlo":24.25,"xhi":24.48},{"p":9,"k":"d","s":"V","x":24.48,"y":-4.64,"xlo":24.38,"xhi":24.6},{"p":9,"k":"d","s":"V","x":24.71,"y":-4.95,"xlo":24.6,"xhi":24.82},{"p":9,"k":"d","s":"V","x":24.94,"y":-5.45,"xlo":24.82,"xhi":25.05},{"p":9,"k":"d","s":"V","x":25.23,"y":-6.32,"xlo":25.1,"xhi":25.35,"ylo":-6.7,"yhi":-5.95},
{"p":10,"k":"d","s":"BC","x":20.71,"y":-1.09},{"p":10,"k":"d","s":"BC","x":21.1,"y":-1.14},{"p":10,"k":"d","s":"BC","x":21.48,"y":-1.5},{"p":10,"k":"d","s":"BC","x":21.76,"y":-1.69},{"p":10,"k":"d","s":"BC","x":21.97,"y":-1.82},{"p":10,"k":"d","s":"BC","x":22.25,"y":-2.01},{"p":10,"k":"d","s":"BC","x":22.54,"y":-2.1},{"p":10,"k":"d","s":"BC","x":22.75,"y":-2.28},{"p":10,"k":"d","s":"BC","x":23.06,"y":-2.69},{"p":10,"k":"d","s":"BC","x":23.27,"y":-2.92},{"p":10,"k":"d","s":"BC","x":23.52,"y":-3.38},{"p":10,"k":"d","s":"BC","x":23.76,"y":-4.34,"ylo":-4.6,"yhi":-4.05},{"p":10,"k":"d","s":"BC","x":24.01,"y":-5.03,"ylo":-5.65,"yhi":-4.5},
{"p":10,"k":"d","s":"BU","x":22.71,"y":-2.88},{"p":10,"k":"d","s":"BU","x":22.92,"y":-3.43},{"p":10,"k":"d","s":"BU","x":23.13,"y":-4.3},{"p":10,"k":"d","s":"BU","x":23.34,"y":-5.03},
{"p":10,"k":"d","s":"V","x":24.25,"y":-4.53,"xlo":24.05,"xhi":24.4},{"p":10,"k":"d","s":"V","x":24.5,"y":-5.03,"xlo":24.4,"xhi":24.62},{"p":10,"k":"d","s":"V","x":24.68,"y":-5.2,"xlo":24.6,"xhi":24.78},{"p":10,"k":"d","s":"V","x":24.89,"y":-5.72,"xlo":24.78,"xhi":25.0},{"p":10,"k":"d","s":"V","x":25.1,"y":-5.85,"xlo":25.0,"xhi":25.2,"ylo":-6.1,"yhi":-5.6},
{"p":10,"k":"d","s":"G","x":24.5,"y":-4.62},{"p":10,"k":"d","s":"G","x":25.06,"y":-5.76},{"p":10,"k":"d","s":"G","x":25.55,"y":-7.15,"ylo":-7.45,"yhi":-6.85},
{"p":11,"k":"d","s":"BC","x":20.65,"y":-1.1},{"p":11,"k":"d","s":"BC","x":21.25,"y":-1.55},{"p":11,"k":"d","s":"BC","x":21.5,"y":-1.8},{"p":11,"k":"d","s":"BC","x":21.75,"y":-2.0},{"p":11,"k":"d","s":"BC","x":22.0,"y":-2.2},{"p":11,"k":"d","s":"BC","x":22.3,"y":-2.4},{"p":11,"k":"d","s":"BC","x":22.6,"y":-2.55},{"p":11,"k":"d","s":"BC","x":22.85,"y":-2.7},{"p":11,"k":"d","s":"BC","x":23.1,"y":-2.9},{"p":11,"k":"d","s":"BC","x":23.4,"y":-3.3},{"p":11,"k":"d","s":"BC","x":23.8,"y":-3.9},{"p":11,"k":"d","s":"BC","x":24.0,"y":-4.55,"ylo":-5.0,"yhi":-4.1},{"p":11,"k":"d","s":"BC","x":24.15,"y":-5.25,"ylo":-6.6,"yhi":-4.6},
{"p":11,"k":"d","s":"BU","x":22.3,"y":-2.6},{"p":11,"k":"d","s":"BU","x":22.75,"y":-3.0},{"p":11,"k":"d","s":"BU","x":23.05,"y":-3.4},{"p":11,"k":"d","s":"BU","x":23.3,"y":-3.85},{"p":11,"k":"d","s":"BU","x":23.55,"y":-4.55},{"p":11,"k":"d","s":"BU","x":23.75,"y":-5.3},
{"p":11,"k":"d","s":"V","x":24.2,"y":-4.85,"xlo":24.05,"xhi":24.35},{"p":11,"k":"d","s":"V","x":24.45,"y":-5.45,"xlo":24.35,"xhi":24.55},{"p":11,"k":"d","s":"V","x":24.6,"y":-5.65,"xlo":24.55,"xhi":24.7},{"p":11,"k":"d","s":"V","x":24.8,"y":-5.95,"xlo":24.7,"xhi":24.9},{"p":11,"k":"d","s":"V","x":25.0,"y":-6.0,"xlo":24.9,"xhi":25.15,"ylo":-6.3,"yhi":-5.7},
{"p":1,"k":"t","zr":"0.1< z <0.4","zm":"= 0.31"},{"p":2,"k":"t","zr":"0.4< z <0.6","zm":"= 0.50"},{"p":3,"k":"t","zr":"0.6< z <0.8","zm":"= 0.69"},{"p":4,"k":"t","zr":"0.8< z <1.0","zm":"= 0.90"},{"p":5,"k":"t","zr":"1.0< z <1.3","zm":"= 1.16"},{"p":6,"k":"t","zr":"1.3< z <1.6","zm":"= 1.44"},{"p":7,"k":"t","zr":"1.6< z <2.0","zm":"= 1.81"},{"p":8,"k":"t","zr":"2.0< z <2.5","zm":"= 2.18"},{"p":9,"k":"t","zr":"2.5< z <3.3","zm":"= 2.81"},{"p":10,"k":"t","zr":"3.3< z <4.6","zm":"= 3.71"},{"p":11,"k":"t","zr":"4.6< z <5.7","zm":"= 4.83"},
{"p":1,"k":"g","s":"V"},{"p":1,"k":"g","s":"S"},{"p":1,"k":"g","s":"G"},{"p":1,"k":"g","s":"M"},{"p":1,"k":"g","s":"BU"},{"p":1,"k":"g","s":"BC"},{"p":1,"k":"g","s":"B"},{"p":1,"k":"g","s":"P"},{"p":1,"k":"g","s":"E"},{"p":1,"k":"g","s":"L"},{"p":1,"k":"g","s":"N"},{"p":1,"k":"g","s":"U"}
]},
"spacing":0,
"resolve":{"scale":{"shape":"shared","stroke":"shared","fill":"shared","strokeDash":"shared"},"legend":{"shape":"shared","stroke":"shared","fill":"shared","strokeDash":"shared"}},
"hconcat":[
{"data":{"name":"all"},
 "transform":[{"filter":{"field":"p","oneOf":[1,2,4,5,7,8,10,11]}}],
 "title":{"text":"log(Φ [Mpc⁻³ dex⁻¹])","orient":"left","anchor":"middle","font":"Liberation Sans","fontSize":15,"fontWeight":"normal","color":"#222","offset":18},
 "columns":2,"spacing":0,
 "facet":{"field":"p","type":"ordinal","header":{"labels":false,"title":null}},
 "spec":{"width":282,"height":252,"layer":[
{"transform":[{"filter":"datum.k=='c'"}],"mark":{"type":"area","color":"#b8b8b8","interpolate":"monotone","clip":true},
 "encoding":{"x":{"field":"x","type":"quantitative","scale":{"domain":[20.5,26.5],"nice":false,"zero":false},"axis":{"title":null,"values":[21,22,23,24,25,26]}},
 "y":{"field":"lo","type":"quantitative","scale":{"domain":[-7.4,-0.4],"nice":false,"zero":false},"axis":{"title":null,"values":[-7,-6,-5,-4,-3,-2,-1]}},"y2":{"field":"hi"}}},
{"transform":[{"filter":"datum.k=='c'"}],"mark":{"type":"line","color":"#a0a0e6","strokeWidth":6,"opacity":0.45,"interpolate":"monotone","clip":true},
 "encoding":{"x":{"field":"x","type":"quantitative"},"y":{"field":"y","type":"quantitative"}}},
{"transform":[{"filter":"datum.k=='l'"}],"mark":{"type":"line","color":"#8a5cc8","strokeWidth":1.3,"strokeDash":[7,3,1,3,1,3],"interpolate":"monotone","clip":true},
 "encoding":{"x":{"field":"x","type":"quantitative"},"y":{"field":"y","type":"quantitative"}}},
{"transform":[{"filter":"datum.k=='v' && datum.t=='s'"}],"mark":{"type":"rule","color":"#8a8a8a","strokeWidth":1,"strokeDash":[6,3,1,3]},
 "encoding":{"x":{"field":"x","type":"quantitative"}}},
{"transform":[{"filter":"datum.k=='v' && datum.t=='u'"}],"mark":{"type":"rule","color":"#7a0010","strokeWidth":1.3,"strokeDash":[2,2]},
 "encoding":{"x":{"field":"x","type":"quantitative"}}},
{"transform":[{"filter":"datum.k=='c'"}],"mark":{"type":"line","color":"#1c1c7a","strokeWidth":2,"interpolate":"monotone","clip":true},
 "encoding":{"x":{"field":"x","type":"quantitative"},"y":{"field":"y","type":"quantitative"}}},
{"transform":[{"filter":"datum.k=='c'"}],"mark":{"type":"line","color":"#000000","strokeWidth":1.5,"strokeDash":[7,4],"interpolate":"monotone","clip":true},
 "encoding":{"x":{"field":"x","type":"quantitative"},"y":{"field":"y","type":"quantitative"}}},
{"transform":[{"filter":"datum.k=='d' && isValid(datum.ylo)"}],"mark":{"type":"rule","strokeWidth":1.3,"clip":true},
 "encoding":{"x":{"field":"x","type":"quantitative"},"y":{"field":"ylo","type":"quantitative"},"y2":{"field":"yhi"},
 "stroke":{"field":"s","type":"nominal","scale":{"domain":["V","S","G","M","BU","BC","B","P","E","L","N","U"],"range":["#000000","#4fb3e3","#d81e1e","#f39c1e","#52d852","#1e8c1e","#b8b8b8","#000000","#1c1c7a","#8a5cc8","#8a8a8a","#7a0010"]}}}},
{"transform":[{"filter":"datum.k=='d' && isValid(datum.xlo)"}],"mark":{"type":"rule","strokeWidth":1.5,"clip":true},
 "encoding":{"y":{"field":"y","type":"quantitative"},"x":{"field":"xlo","type":"quantitative"},"x2":{"field":"xhi"},"stroke":{"field":"s","type":"nominal"}}},
{"transform":[{"filter":"datum.k=='d'"}],"mark":{"type":"point","size":45,"strokeWidth":1.4,"opacity":1,"clip":true},
 "encoding":{"x":{"field":"x","type":"quantitative"},"y":{"field":"y","type":"quantitative"},
 "shape":{"field":"s","type":"nominal","scale":{"domain":["V","S","G","M","BU","BC","B","P","E","L","N","U"],"range":["circle","square","triangle-down","triangle-up","triangle-right","circle","M-8.9,-1.15H0.6V1.15H-8.9Z","M-8.9,0H0.6","M-8.9,0H0.6","M-8.9,0H0.6","M-8.9,0H0.6","M-8.9,0H0.6"]}},
 "stroke":{"field":"s","type":"nominal"},
 "fill":{"field":"s","type":"nominal","scale":{"domain":["V","S","G","M","BU","BC","B","P","E","L","N","U"],"range":["#000000","transparent","#f05a4a","#f7b84a","transparent","transparent","#b8b8b8","transparent","transparent","transparent","transparent","transparent"]}}}},
{"transform":[{"filter":"datum.k=='t'"}],"mark":{"type":"text","align":"left","baseline":"middle","font":"Liberation Sans","fontSize":13,"fontWeight":"bold","color":"#222"},
 "encoding":{"x":{"datum":23.45,"type":"quantitative"},"y":{"datum":-0.95,"type":"quantitative"},"text":{"field":"zr"}}},
{"transform":[{"filter":"datum.k=='t'"}],"mark":{"type":"text","align":"left","baseline":"middle","font":"Liberation Sans","fontSize":13,"fontWeight":"bold","color":"#222"},
 "encoding":{"x":{"datum":23.45,"type":"quantitative"},"y":{"datum":-1.45,"type":"quantitative"},"text":{"value":"z"}}},
{"transform":[{"filter":"datum.k=='t'"}],"mark":{"type":"text","align":"left","baseline":"middle","font":"Liberation Sans","fontSize":8,"fontWeight":"bold","color":"#222","dx":8,"dy":5},
 "encoding":{"x":{"datum":23.45,"type":"quantitative"},"y":{"datum":-1.45,"type":"quantitative"},"text":{"value":"MED"}}},
{"transform":[{"filter":"datum.k=='t'"}],"mark":{"type":"text","align":"left","baseline":"middle","font":"Liberation Sans","fontSize":13,"fontWeight":"bold","color":"#222","dx":30},
 "encoding":{"x":{"datum":23.45,"type":"quantitative"},"y":{"datum":-1.45,"type":"quantitative"},"text":{"field":"zm"}}},
{"transform":[{"filter":"datum.k=='g'"}],"mark":{"type":"point","size":40,"clip":true},
 "encoding":{"x":{"datum":30,"type":"quantitative"},"y":{"datum":-3,"type":"quantitative"},
 "shape":{"field":"s","type":"nominal","legend":{"labelExpr":"datum.label=='V'?'This paper (Vmax)':datum.label=='S'?'Smolcic+09':datum.label=='G'?'Gruppioni+13':datum.label=='M'?'Magnelli+13':datum.label=='BU'?'Bouwens+15: dust uncorrected':datum.label=='BC'?'Bouwens+15: dust corrected':datum.label=='B'?'This paper: Φ and L evolution 1σ':datum.label=='P'?'This paper: pure L evolution':datum.label=='E'?'This paper: simple evolution model':datum.label=='L'?'Local LF':datum.label=='N'?'5σ sensitivity at zₘₐₓ':'ULIRGs'"}},
 "stroke":{"field":"s","type":"nominal","legend":{"labelExpr":"datum.label=='V'?'This paper (Vmax)':datum.label=='S'?'Smolcic+09':datum.label=='G'?'Gruppioni+13':datum.label=='M'?'Magnelli+13':datum.label=='BU'?'Bouwens+15: dust uncorrected':datum.label=='BC'?'Bouwens+15: dust corrected':datum.label=='B'?'This paper: Φ and L evolution 1σ':datum.label=='P'?'This paper: pure L evolution':datum.label=='E'?'This paper: simple evolution model':datum.label=='L'?'Local LF':datum.label=='N'?'5σ sensitivity at zₘₐₓ':'ULIRGs'"}},
 "fill":{"field":"s","type":"nominal","legend":{"labelExpr":"datum.label=='V'?'This paper (Vmax)':datum.label=='S'?'Smolcic+09':datum.label=='G'?'Gruppioni+13':datum.label=='M'?'Magnelli+13':datum.label=='BU'?'Bouwens+15: dust uncorrected':datum.label=='BC'?'Bouwens+15: dust corrected':datum.label=='B'?'This paper: Φ and L evolution 1σ':datum.label=='P'?'This paper: pure L evolution':datum.label=='E'?'This paper: simple evolution model':datum.label=='L'?'Local LF':datum.label=='N'?'5σ sensitivity at zₘₐₓ':'ULIRGs'"}},
 "strokeDash":{"field":"s","type":"nominal","scale":{"domain":["V","S","G","M","BU","BC","B","P","E","L","N","U"],"range":[[1,0],[1,0],[1,0],[1,0],[1,0],[1,0],[1,0],[6,3],[1,0],[6,2,1,2,1,2],[5,2,1,2],[2,2]]},"legend":{"labelExpr":"datum.label=='V'?'This paper (Vmax)':datum.label=='S'?'Smolcic+09':datum.label=='G'?'Gruppioni+13':datum.label=='M'?'Magnelli+13':datum.label=='BU'?'Bouwens+15: dust uncorrected':datum.label=='BC'?'Bouwens+15: dust corrected':datum.label=='B'?'This paper: Φ and L evolution 1σ':datum.label=='P'?'This paper: pure L evolution':datum.label=='E'?'This paper: simple evolution model':datum.label=='L'?'Local LF':datum.label=='N'?'5σ sensitivity at zₘₐₓ':'ULIRGs'"}}}}
 ]}},
{"data":{"name":"all"},
 "transform":[{"filter":{"field":"p","oneOf":[3,6,9]}}],
 "columns":1,"spacing":0,
 "facet":{"field":"p","type":"ordinal","header":{"labels":false,"title":null}},
 "spec":{"width":282,"height":252,"layer":[
{"transform":[{"filter":"datum.k=='c'"}],"mark":{"type":"area","color":"#b8b8b8","interpolate":"monotone","clip":true},
 "encoding":{"x":{"field":"x","type":"quantitative","scale":{"domain":[20.5,26.5],"nice":false,"zero":false},"axis":{"title":null,"values":[21,22,23,24,25,26]}},
 "y":{"field":"lo","type":"quantitative","scale":{"domain":[-7.4,-0.4],"nice":false,"zero":false},"axis":{"title":null,"values":[-7,-6,-5,-4,-3,-2,-1],"labels":false}},"y2":{"field":"hi"}}},
{"transform":[{"filter":"datum.k=='c'"}],"mark":{"type":"line","color":"#a0a0e6","strokeWidth":6,"opacity":0.45,"interpolate":"monotone","clip":true},
 "encoding":{"x":{"field":"x","type":"quantitative"},"y":{"field":"y","type":"quantitative"}}},
{"transform":[{"filter":"datum.k=='l'"}],"mark":{"type":"line","color":"#8a5cc8","strokeWidth":1.3,"strokeDash":[7,3,1,3,1,3],"interpolate":"monotone","clip":true},
 "encoding":{"x":{"field":"x","type":"quantitative"},"y":{"field":"y","type":"quantitative"}}},
{"transform":[{"filter":"datum.k=='v' && datum.t=='s'"}],"mark":{"type":"rule","color":"#8a8a8a","strokeWidth":1,"strokeDash":[6,3,1,3]},
 "encoding":{"x":{"field":"x","type":"quantitative"}}},
{"transform":[{"filter":"datum.k=='v' && datum.t=='u'"}],"mark":{"type":"rule","color":"#7a0010","strokeWidth":1.3,"strokeDash":[2,2]},
 "encoding":{"x":{"field":"x","type":"quantitative"}}},
{"transform":[{"filter":"datum.k=='c'"}],"mark":{"type":"line","color":"#1c1c7a","strokeWidth":2,"interpolate":"monotone","clip":true},
 "encoding":{"x":{"field":"x","type":"quantitative"},"y":{"field":"y","type":"quantitative"}}},
{"transform":[{"filter":"datum.k=='c'"}],"mark":{"type":"line","color":"#000000","strokeWidth":1.5,"strokeDash":[7,4],"interpolate":"monotone","clip":true},
 "encoding":{"x":{"field":"x","type":"quantitative"},"y":{"field":"y","type":"quantitative"}}},
{"transform":[{"filter":"datum.k=='d' && isValid(datum.ylo)"}],"mark":{"type":"rule","strokeWidth":1.3,"clip":true},
 "encoding":{"x":{"field":"x","type":"quantitative"},"y":{"field":"ylo","type":"quantitative"},"y2":{"field":"yhi"},"stroke":{"field":"s","type":"nominal"}}},
{"transform":[{"filter":"datum.k=='d' && isValid(datum.xlo)"}],"mark":{"type":"rule","strokeWidth":1.5,"clip":true},
 "encoding":{"y":{"field":"y","type":"quantitative"},"x":{"field":"xlo","type":"quantitative"},"x2":{"field":"xhi"},"stroke":{"field":"s","type":"nominal"}}},
{"transform":[{"filter":"datum.k=='d'"}],"mark":{"type":"point","size":45,"strokeWidth":1.4,"opacity":1,"clip":true},
 "encoding":{"x":{"field":"x","type":"quantitative"},"y":{"field":"y","type":"quantitative"},
 "shape":{"field":"s","type":"nominal"},"stroke":{"field":"s","type":"nominal"},"fill":{"field":"s","type":"nominal"}}},
{"transform":[{"filter":"datum.k=='t'"}],"mark":{"type":"text","align":"left","baseline":"middle","font":"Liberation Sans","fontSize":13,"fontWeight":"bold","color":"#222"},
 "encoding":{"x":{"datum":23.45,"type":"quantitative"},"y":{"datum":-0.95,"type":"quantitative"},"text":{"field":"zr"}}},
{"transform":[{"filter":"datum.k=='t'"}],"mark":{"type":"text","align":"left","baseline":"middle","font":"Liberation Sans","fontSize":13,"fontWeight":"bold","color":"#222"},
 "encoding":{"x":{"datum":23.45,"type":"quantitative"},"y":{"datum":-1.45,"type":"quantitative"},"text":{"value":"z"}}},
{"transform":[{"filter":"datum.k=='t'"}],"mark":{"type":"text","align":"left","baseline":"middle","font":"Liberation Sans","fontSize":8,"fontWeight":"bold","color":"#222","dx":8,"dy":5},
 "encoding":{"x":{"datum":23.45,"type":"quantitative"},"y":{"datum":-1.45,"type":"quantitative"},"text":{"value":"MED"}}},
{"transform":[{"filter":"datum.k=='t'"}],"mark":{"type":"text","align":"left","baseline":"middle","font":"Liberation Sans","fontSize":13,"fontWeight":"bold","color":"#222","dx":30},
 "encoding":{"x":{"datum":23.45,"type":"quantitative"},"y":{"datum":-1.45,"type":"quantitative"},"text":{"field":"zm"}}}
 ]}}
],
"config":{
 "view":{"stroke":"#000000","strokeWidth":1.5},
 "header":{"labels":false,"labelFontSize":1,"labelPadding":0},
 "headerFacet":{"labels":false,"labelFontSize":1,"labelPadding":0},
 "axis":{"grid":false,"domain":false,"labelFont":"Liberation Sans","labelFontSize":15,"labelColor":"#1a1a1a","tickColor":"#000000","tickSize":-6,"tickWidth":1.2},
 "axisX":{"labelPadding":33},
 "axisY":{"labelPadding":8},
 "legend":{"orient":"none","legendX":616,"legendY":827,"title":null,"labelFont":"Liberation Sans","labelFontSize":10.5,"labelColor":"#222","labelLimit":320,"symbolSize":40,"symbolStrokeWidth":1.4,"labelOffset":16,"rowPadding":4.4,"padding":0},
 "font":"Liberation Sans"
}
}
